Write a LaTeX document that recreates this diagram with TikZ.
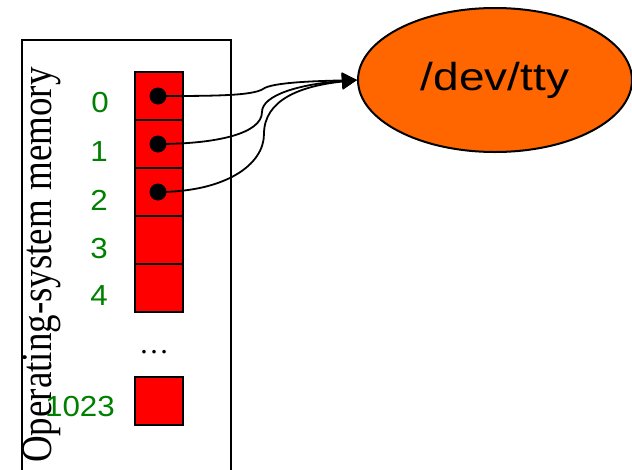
\documentclass[tikz,border=0pt]{standalone}
\usepackage{fontspec}
\setmainfont{Liberation Serif}
\newfontfamily\arialw[FakeStretch=1.18]{Liberation Sans}
\newfontfamily\arialn[FakeStretch=1.08]{Liberation Sans}
\newfontfamily\timesv[FakeStretch=0.85]{Liberation Serif}
\usetikzlibrary{shapes.geometric,arrows.meta}
\definecolor{cellred}{RGB}{255,0,0}
\definecolor{labgreen}{RGB}{0,128,0}
\definecolor{ttyorange}{RGB}{255,102,0}
\tikzset{
  cell/.style={draw=black,line width=2pt,fill=cellred,minimum width=48pt,minimum height=48pt,inner sep=0pt,outer sep=0pt},
  dotc/.style={circle,fill=black,minimum size=17pt,inner sep=0pt},
  lab/.style={text=labgreen,font=\arialn\fontsize{29}{29}\selectfont,inner sep=0pt},
  conn/.style={line width=1.8pt},
  connarrow/.style={line width=1.8pt,-{Triangle[length=15pt,width=16pt]}}
}
\begin{document}
\begin{tikzpicture}[x=1pt,y=-1pt]
\useasboundingbox (0,0) rectangle (632,469);
% outer memory box
\draw[line width=2pt] (22,475) -- (22,40) -- (231,40) -- (231,475);
\node[rotate=90,anchor=base west,inner sep=0pt,font=\timesv\fontsize{43.5}{43.5}\selectfont] (osm) at (51,463) {Operating-system memory};
% cells
\node[cell] (c0) at (159,96) {};
\node[cell] (c1) at (159,144) {};
\node[cell] (c2) at (159,192) {};
\node[cell] (c3) at (159,240) {};
\node[cell] (c4) at (159,288) {};
\node[cell] (c1023) at (159,400.5) {};
\node[inner sep=0pt,font=\fontsize{30}{30}\selectfont] (ell) at (154,352) {\textellipsis};
% labels
\node[lab] (l0) at (100,103) {0};
\node[lab] (l1) at (99,152) {1};
\node[lab] (l2) at (99,200) {2};
\node[lab] (l3) at (99,249) {3};
\node[lab] (l4) at (99,296) {4};
\node[lab] (l1023) at (80,407) {1023};
% dots
\node[dotc] (d0) at (158,96) {};
\node[dotc] (d1) at (158,144) {};
\node[dotc] (d2) at (158,192) {};
% /dev/tty
\node[ellipse,draw=black,line width=2pt,fill=ttyorange,minimum width=274pt,minimum height=144pt,inner sep=0pt] (tty) at (495,80) {\arialw\fontsize{39}{39}\selectfont /dev/tty};
% kink points
\coordinate (k0) at (263,89);
\coordinate (k1) at (262,112);
\coordinate (k2) at (264,134);
% connectors
\draw[conn] (d0.center) .. controls (210,96) and (252,96) .. (k0);
\draw[connarrow] (k0) .. controls (272,82) and (320,81) .. (tty.west);
\draw[conn] (d1.center) .. controls (215,144) and (262,134) .. (k1);
\draw[connarrow] (k1) .. controls (262,95) and (300,84) .. (tty.west);
\draw[conn] (d2.center) .. controls (225,192) and (264,165) .. (k2);
\draw[connarrow] (k2) .. controls (264,100) and (300,86) .. (tty.west);
\end{tikzpicture}
\end{document}
